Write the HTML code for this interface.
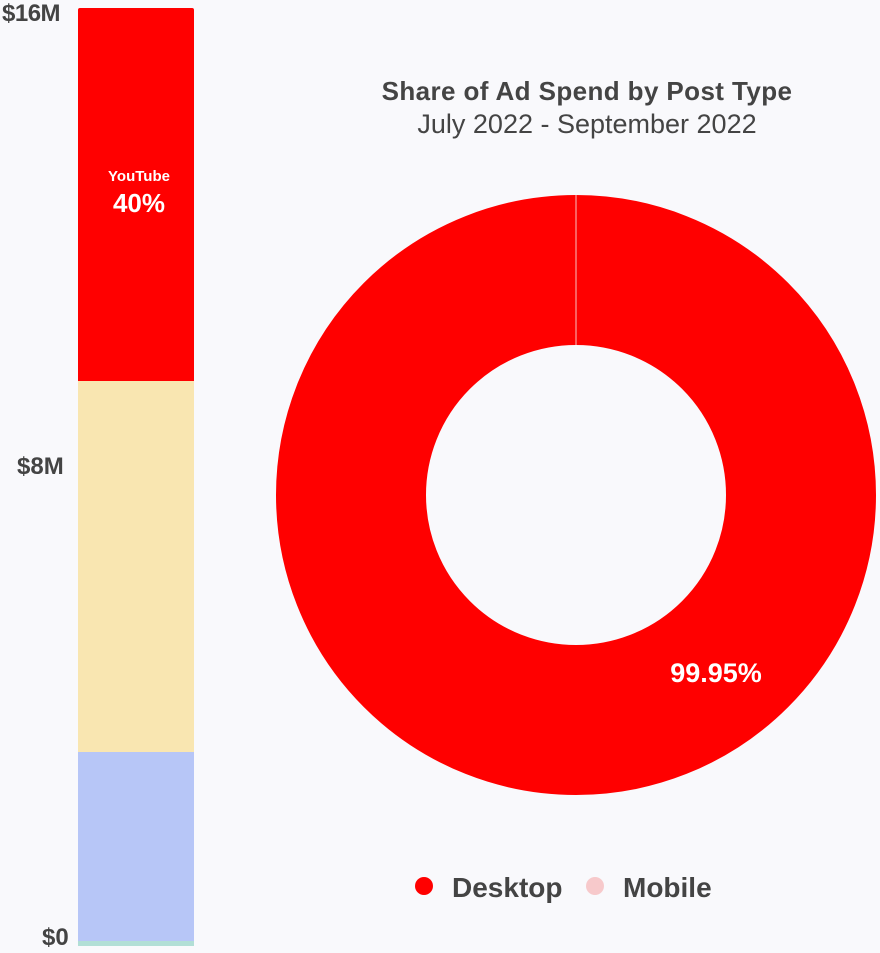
<!DOCTYPE html>
<html><head><style>
body{margin:0;width:880px;height:953px;background:#f9f9fc;font-family:"Liberation Sans",sans-serif;position:relative;overflow:hidden;color:#444}
.t{position:absolute;font-weight:bold;font-size:24px;color:#444}
</style></head><body>
<div class="t" style="left:2px;top:0px;letter-spacing:-0.5px">$16M</div>
<div class="t" style="left:17px;top:453px">$8M</div>
<div class="t" style="left:42px;top:924px">$0</div>
<div style="position:absolute;left:78px;top:8px;width:116px;height:373px;background:#ff0000;border-radius:2px 2px 0 0"></div>
<div style="position:absolute;left:78px;top:381px;width:116px;height:371px;background:#f9e6b1"></div>
<div style="position:absolute;left:78px;top:752px;width:116px;height:189px;background:#b7c6f7"></div>
<div style="position:absolute;left:78px;top:941px;width:116px;height:5px;background:#b2dfd6"></div>
<div style="position:absolute;left:78px;width:122px;top:168px;text-align:center;color:#fff;font-weight:bold;font-size:15px">YouTube</div>
<div style="position:absolute;left:78px;width:122px;top:188px;text-align:center;color:#fff;font-weight:bold;font-size:26px">40%</div>
<div style="position:absolute;left:287px;width:600px;top:76px;text-align:center;font-weight:bold;font-size:26px;letter-spacing:0.4px;color:#444">Share of Ad Spend by Post Type</div>
<div style="position:absolute;left:287px;width:600px;top:109px;text-align:center;font-size:27px;color:#444">July 2022 - September 2022</div>
<svg style="position:absolute;left:0;top:0" width="880" height="953">
<circle cx="576" cy="495" r="225" fill="none" stroke="#ff0000" stroke-width="150"/>
<line x1="576" y1="195" x2="576" y2="345" stroke="#f7c0c0" stroke-width="1"/>
<text x="716" y="682" font-family="Liberation Sans" font-weight="bold" font-size="27" fill="#fff" text-anchor="middle">99.95%</text>
<circle cx="424" cy="886" r="9" fill="#ff0000"/>
<text x="452" y="897" font-family="Liberation Sans" font-weight="bold" font-size="28" fill="#444">Desktop</text>
<circle cx="595" cy="886" r="9" fill="#f7c9cb"/>
<text x="623" y="897" font-family="Liberation Sans" font-weight="bold" font-size="28" fill="#444">Mobile</text>
</svg>
</body></html>
